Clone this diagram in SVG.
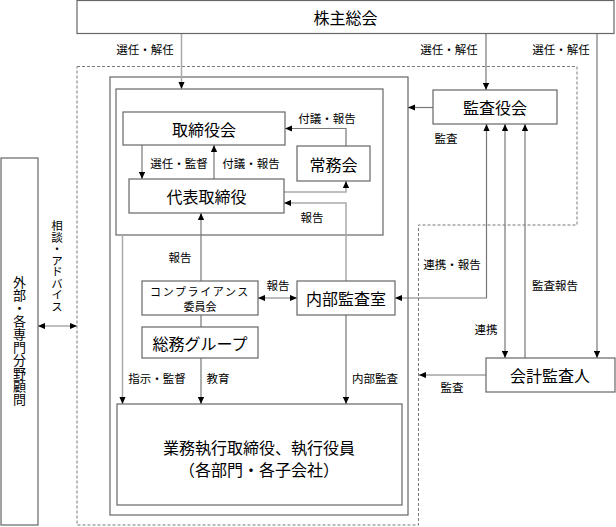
<svg xmlns="http://www.w3.org/2000/svg" width="616" height="527" viewBox="0 0 616 527">
<defs>
<marker id="ah" viewBox="0 0 8 7" refX="8" refY="3.5" markerWidth="7" markerHeight="6.5" markerUnits="userSpaceOnUse" orient="auto-start-reverse">
<path d="M0,0 L8,3.5 L0,7 z" fill="#000"/>
</marker>
</defs>
<style>
.box{fill:#fff;stroke:#666;stroke-width:1.2}
.frame{fill:none;stroke:#666;stroke-width:1.2}
.dash{fill:none;stroke:#777;stroke-width:1;stroke-dasharray:3 2}
.c{fill:none;stroke:#777;stroke-width:1.2}
.cl{fill:none;stroke:#aaa;stroke-width:1.5}
text{font-family:"Noto Sans CJK JP","Noto Sans CJK SC",sans-serif;fill:#000;text-anchor:middle;dominant-baseline:central}
.t{font-size:16px}
.s{font-size:11.5px}
.v{writing-mode:vertical-rl}
</style>
<rect width="616" height="527" fill="#fff"/>
<g id="boundary">
<path class="dash" d="M77,66.5 H577 V225 H418.5 V525 H77 Z"/>
<rect class="frame" x="110" y="77" width="298" height="438"/>
<rect class="frame" x="116" y="89" width="267" height="146"/>
</g>
<g id="connectors">
<path class="cl" d="M181.5,34 V89" marker-end="url(#ah)"/>
<path class="c" d="M486,34 V90" marker-end="url(#ah)"/>
<path class="c" d="M597,34 V358" marker-end="url(#ah)"/>
<path class="c" d="M433,107.5 H408" marker-end="url(#ah)"/>
<path class="c" d="M395,298 H486.5 V124" marker-start="url(#ah)" marker-end="url(#ah)"/>
<path class="c" d="M505,124 V358" marker-start="url(#ah)" marker-end="url(#ah)"/>
<path class="c" d="M525,358 V124" marker-end="url(#ah)"/>
<path class="c" d="M486,375 H419" marker-end="url(#ah)"/>
<path class="c" d="M142,145 V179" marker-end="url(#ah)"/>
<path class="c" d="M214,179 V145" marker-end="url(#ah)"/>
<path class="c" d="M346,146 V128.5 H285" marker-end="url(#ah)"/>
<path class="cl" d="M284,192 H346 V181" marker-end="url(#ah)"/>
<path class="cl" d="M346,281 V203 H284" marker-end="url(#ah)"/>
<path class="c" d="M201,281 V213" marker-end="url(#ah)"/>
<path class="c" d="M201,315 V327"/>
<path class="c" d="M258,298 H297" marker-start="url(#ah)" marker-end="url(#ah)"/>
<path class="c" d="M201,358 V404" marker-end="url(#ah)"/>
<path class="cl" d="M122.5,235 V404" marker-end="url(#ah)"/>
<path class="c" d="M346,315 V404" marker-end="url(#ah)"/>
<path class="cl" d="M38,326 H77" marker-start="url(#ah)" marker-end="url(#ah)"/>
<text class="s" x="145" y="49">選任・解任</text>
<text class="s" x="449" y="49">選任・解任</text>
<text class="s" x="561" y="49">選任・解任</text>
<text class="s" x="446" y="138">監査</text>
<text class="s" x="452" y="264">連携・報告</text>
<text class="s" x="486" y="329">連携</text>
<text class="s" x="555" y="285">監査報告</text>
<text class="s" x="452" y="387">監査</text>
<text class="s" x="179" y="163">選任・監督</text>
<text class="s" x="251" y="163">付議・報告</text>
<text class="s" x="327" y="118">付議・報告</text>
<text class="s" x="312" y="217">報告</text>
<text class="s" x="180" y="257">報告</text>
<text class="s" x="278" y="285">報告</text>
<text class="s" x="157" y="378">指示・監督</text>
<text class="s" x="218" y="378">教育</text>
<text class="s" x="375" y="378">内部監査</text>
<text class="s v" x="57" y="266">相談・アドバイス</text>
</g>
<g id="shareholders">
<rect class="box" x="77" y="0.5" width="537" height="33"/>
<text class="t" x="345.5" y="17">株主総会</text>
</g>
<g id="board">
<rect class="box" x="123" y="112" width="162" height="33"/>
<text class="t" x="204" y="129">取締役会</text>
</g>
<g id="jomukai">
<rect class="box" x="297" y="146" width="73" height="35"/>
<text class="t" x="333.5" y="163.5">常務会</text>
</g>
<g id="ceo">
<rect class="box" x="129" y="179" width="155" height="34"/>
<text class="t" x="206.5" y="196">代表取締役</text>
</g>
<g id="auditors">
<rect class="box" x="433" y="90" width="124" height="34"/>
<text class="t" x="495" y="107">監査役会</text>
</g>
<g id="compliance">
<rect class="box" x="142" y="281" width="116" height="34"/>
<text x="200" y="291" style="font-size:11px;letter-spacing:1.6px">コンプライアンス</text>
<text x="200" y="306" style="font-size:11px">委員会</text>
</g>
<g id="internal-audit">
<rect class="box" x="297" y="281" width="98" height="34"/>
<text class="t" x="346" y="298">内部監査室</text>
</g>
<g id="general-affairs">
<rect class="box" x="142" y="327" width="116" height="31"/>
<text class="t" x="200" y="343">総務グループ</text>
</g>
<g id="accounting-auditor">
<rect class="box" x="486" y="358" width="129" height="34"/>
<text class="t" x="550" y="375">会計監査人</text>
</g>
<g id="execution">
<rect class="box" x="117" y="404" width="285" height="101"/>
<text class="t" x="259" y="446.5">業務執行取締役、執行役員</text>
<text class="t" x="259" y="469">（各部門・各子会社）</text>
</g>
<g id="external">
<rect class="box" x="1" y="158" width="37" height="367"/>
<text class="v" x="19.5" y="341" style="font-size:13px">外部・各専門分野顧問</text>
</g>
</svg>
